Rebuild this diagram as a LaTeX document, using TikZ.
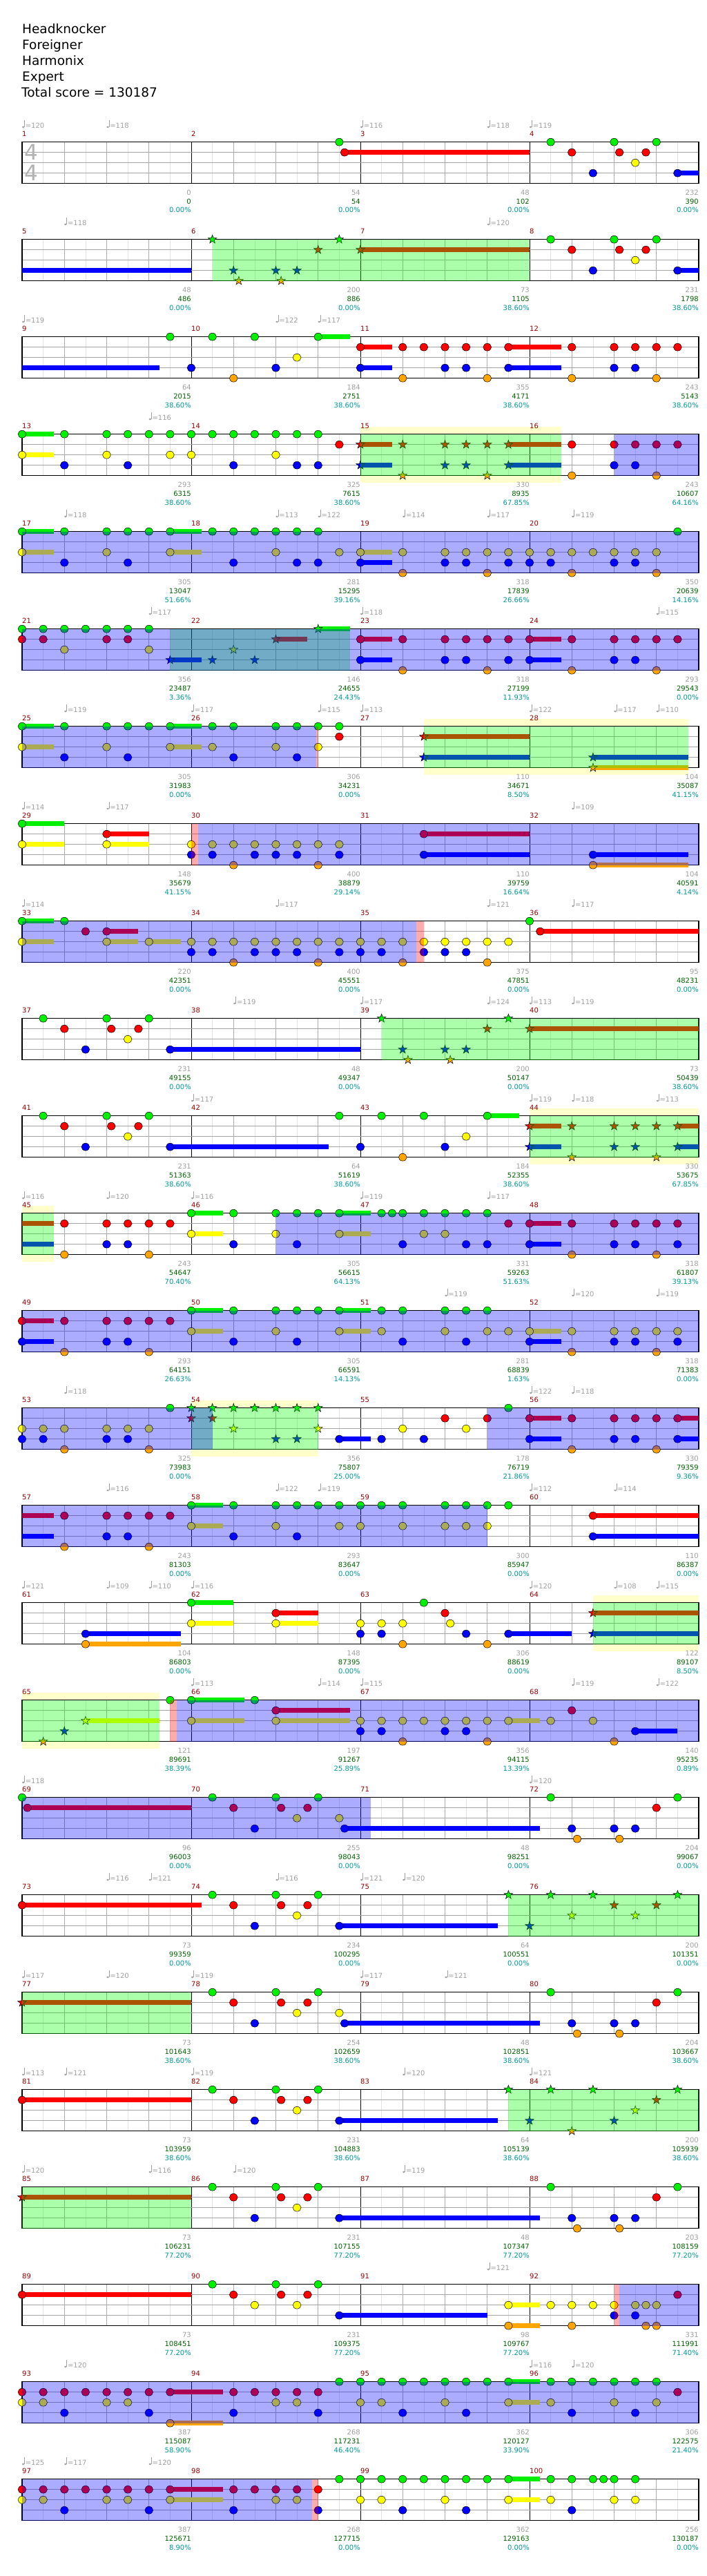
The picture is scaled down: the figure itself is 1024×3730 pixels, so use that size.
\documentclass[tikz,border=0pt]{standalone}
\usepackage{fontspec}
\setmainfont{DejaVu Sans}
\usepackage{xcolor}
\usepackage{tikz}
\definecolor{fretG}{RGB}{0,240,0}
\definecolor{fretR}{RGB}{255,0,0}
\definecolor{fretY}{RGB}{255,255,0}
\definecolor{fretB}{RGB}{0,0,255}
\definecolor{fretO}{RGB}{255,165,0}
\definecolor{spgreen}{RGB}{0,255,0}
\definecolor{activeblue}{RGB}{0,0,255}
\definecolor{sparkred}{RGB}{255,0,0}
\definecolor{solobg}{RGB}{255,255,204}
\definecolor{tempogray}{RGB}{160,160,160}
\definecolor{barred}{RGB}{150,0,0}
\definecolor{gaingray}{RGB}{160,160,160}
\definecolor{totalgreen}{RGB}{0,100,0}
\definecolor{pctteal}{RGB}{0,153,153}

\tikzset{
  chartrow/.style={shift={(32,{-205.7-141*#1})}, x=30.625pt, y=-15pt},
  eighthline/.style={gray!22, line width=0.6pt},
  beatline/.style={gray!65, line width=0.6pt},
  barline/.style={black, line width=0.8pt},
  laneline/.style={gray!70, line width=0.8pt},
  staffframe/.style={black, line width=1.3pt},
  gem/.style={draw=black, line width=0.5pt},
  tailbar/.style={line width=6.7pt},
  smalltext/.style={inner sep=0pt, font=\fontsize{10}{12}\selectfont},
  barnum/.style={smalltext, anchor=base west, text=barred},
  bpmlbl/.style={smalltext, anchor=base west, text=tempogray},
  gainlbl/.style={smalltext, anchor=base east, text=gaingray},
  totallbl/.style={smalltext, anchor=base east, text=totalgreen},
  pctlbl/.style={smalltext, anchor=base east, text=pctteal},
  titlelbl/.style={inner sep=0pt, anchor=base west, font=\fontsize{18.5}{22}\selectfont},
  timesig/.style={inner sep=0pt, text=gray!60, font=\fontsize{31}{36}\selectfont}
}

% one staff of four measures, positions in eighth notes, lanes 0..4
\newcommand{\staffbase}[1]{%
  \def\firstm{#1}
  \fill[white] (0,0) rectangle (32,4);
  \foreach \i in {1,...,31} \draw[eighthline] (\i,0) -- (\i,4);
  \foreach \i in {2,4,...,30} \draw[beatline] (\i,0) -- (\i,4);
  \foreach \i in {8,16,24} \draw[barline] (\i,0) -- (\i,4);
  \foreach \l in {1,2,3} \draw[laneline] (0,\l) -- (32,\l);
  \draw[staffframe] (0,0) rectangle (32,4);
  \foreach \k in {0,...,3} {
    \pgfmathtruncatemacro\mm{#1+\k}
    \node[barnum] (bar\mm) at (8*\k,-0.56) {\mm};
  }
}
\newcommand{\tempos}[1]{\foreach \p/\v in {#1} {
  \fill[tempogray] ([xshift=1.6pt]\p,-1.45) ellipse [x radius=1.9pt, y radius=1.4pt];
  \draw[tempogray, line width=0.6pt] ([xshift=3.3pt]\p,-1.45) -- ++(0pt,9.5pt);
  \node[bpmlbl] (bpm\firstm-\p) at ([xshift=4.6pt]\p,-1.36) {=\v};
}}
\newcommand{\scores}[1]{\foreach \gainv/\totv/\pctv [count=\k] in {#1} {
  \pgfmathtruncatemacro\mm{\firstm+\k-1}
  \node[gainlbl] (gain\mm) at (8*\k,5.09) {\gainv};
  \node[totallbl] (total\mm) at (8*\k,5.97) {\totv};
  \node[pctlbl] (pct\mm) at (8*\k,6.82) {\pctv\%};
}}
\newcommand{\gem}[3]{\foreach \p in {#3}
  \filldraw[gem, fill=#1] (\p,#2) ellipse [x radius=5.9pt, y radius=5.4pt];}
\newcommand{\stargem}[3]{\foreach \p in {#3}
  \filldraw[gem, fill=#1, shift={(\p,#2)}] (90:6.5pt)
    \foreach \a in {0,...,4} {-- (126+72*\a:2.6pt) -- (162+72*\a:6.5pt)} -- cycle;}
\newcommand{\gemtail}[4]{\draw[tailbar, #1] (#3,#2) -- (#4,#2);}
\newcommand{\solozone}[2]{\fill[solobg] (#1,-0.73) rectangle (#2,4.67);}
\newcommand{\spzone}[2]{\fill[spgreen, opacity=.33] (#1,0) rectangle (#2,4);}
\newcommand{\activezone}[2]{\fill[activeblue, opacity=.33] (#1,0) rectangle (#2,4);}
\newcommand{\sparkzone}[2]{\fill[sparkred, opacity=.33] (#1,0) rectangle (#2,4);}

\begin{document}
\begin{tikzpicture}[x=1pt, y=1pt]
\useasboundingbox (0,0) rectangle (1024,-3730);
\fill[white] (0,0) rectangle (1024,-3730);

\node[titlelbl] (song) at (32,-49) {Headknocker};
\node[titlelbl] (artist) at (32,-72) {Foreigner};
\node[titlelbl] (charter) at (32,-95) {Harmonix};
\node[titlelbl] (level) at (32,-118) {Expert};
\node[titlelbl] (total) at (31,-141) {Total score = 130187};

\begin{scope}[chartrow=0]
  \staffbase{1}
  \node[timesig] (sigtop) at (0.42,1) {4};
  \node[timesig] (sigbot) at (0.42,3) {4};
  \tempos{0/120,4/118,16/116,22/118,24/119}
  \gemtail{fretR}{1}{15.25}{24} \gemtail{fretB}{3}{31}{32}
  \gem{fretG}{0}{15,25,28,30}
  \gem{fretR}{1}{15.25,26,28.25,29.5}
  \gem{fretY}{2}{29}
  \gem{fretB}{3}{27,31}
  \scores{0/0/0.00, 54/54/0.00, 48/102/0.00, 232/390/0.00}
\end{scope}

\begin{scope}[chartrow=1]
  \staffbase{5}
  \tempos{2/118,22/120}
  \gemtail{fretB}{3}{0}{8} \gemtail{fretR}{1}{16}{24} \gemtail{fretB}{3}{31}{32}
  \gem{fretG}{0}{25,28,30}
  \gem{fretR}{1}{26,28.25,29.5}
  \gem{fretY}{2}{29}
  \gem{fretB}{3}{27,31}
  \stargem{fretG}{0}{9,15}
  \stargem{fretR}{1}{14,16}
  \stargem{fretB}{3}{10,12,13}
  \stargem{fretO}{4}{10.25,12.25}
  \spzone{9}{24}
  \scores{48/486/0.00, 200/886/0.00, 73/1105/38.60, 231/1798/38.60}
\end{scope}

\begin{scope}[chartrow=2]
  \staffbase{9}
  \tempos{0/119,12/122,14/117}
  \gemtail{fretB}{3}{0}{6.5} \gemtail{fretG}{0}{14}{15.5}
  \gemtail{fretR}{1}{16}{17.5} \gemtail{fretB}{3}{16}{17.5}
  \gemtail{fretR}{1}{23}{25.5} \gemtail{fretB}{3}{23}{25.5}
  \gem{fretG}{0}{7,9,11,14}
  \gem{fretR}{1}{16,18,19,20,21,22,23,26,28,29,30,31}
  \gem{fretY}{2}{13}
  \gem{fretB}{3}{8,12,16,20,21,23,28,29}
  \gem{fretO}{4}{10,18,22,26,30}
  \scores{64/2015/38.60, 184/2751/38.60, 355/4171/38.60, 243/5143/38.60}
\end{scope}

\begin{scope}[chartrow=3]
  \solozone{16}{25.5}
  \staffbase{13}
  \tempos{6/116}
  \gemtail{fretG}{0}{0}{1.5} \gemtail{fretY}{2}{0}{1.5}
  \gemtail{fretR}{1}{16}{17.5} \gemtail{fretR}{1}{23}{25.5}
  \gemtail{fretB}{3}{16}{17.5} \gemtail{fretB}{3}{23}{25.5}
  \gem{fretG}{0}{0,2,4,5,6,7,8,9,10,11,12,13,14}
  \gem{fretR}{1}{15,26,28,29,30,31}
  \gem{fretY}{2}{0,4,7,8,12}
  \gem{fretB}{3}{2,5,10,13,14,28,29}
  \gem{fretO}{4}{26,30}
  \stargem{fretR}{1}{16,18,20,21,22,23}
  \stargem{fretB}{3}{16,20,21,23}
  \stargem{fretO}{4}{18,22}
  \spzone{16}{25.5} \activezone{28}{32}
  \scores{293/6315/38.60, 325/7615/38.60, 330/8935/67.85, 243/10607/64.16}
\end{scope}

\begin{scope}[chartrow=4]
  \staffbase{17}
  \tempos{2/118,12/113,14/122,18/114,22/117,26/119}
  \gemtail{fretG}{0}{0}{1.5} \gemtail{fretG}{0}{7}{8.5}
  \gemtail{fretY}{2}{0}{1.5} \gemtail{fretY}{2}{7}{8.5}
  \gemtail{fretY}{2}{16}{17.5} \gemtail{fretB}{3}{16}{17.5}
  \gem{fretG}{0}{0,2,4,5,6,7,9,10,11,12,13,14,31}
  \gem{fretY}{2}{0,4,7,12,15,16,18,20,21,22,23,24,25,26,27,28,29,30}
  \gem{fretB}{3}{2,5,10,13,14,16,20,21,23,24,25,28,29}
  \gem{fretO}{4}{18,22,26,30}
  \activezone{0}{32}
  \scores{305/13047/51.66, 281/15295/39.16, 318/17839/26.66, 350/20639/14.16}
\end{scope}

\begin{scope}[chartrow=5]
  \staffbase{21}
  \tempos{6/117,16/118,30/115}
  \gemtail{fretB}{3}{7}{8.5} \gemtail{fretR}{1}{12}{13.5} \gemtail{fretG}{0}{14}{15.5}
  \gemtail{fretR}{1}{16}{17.5} \gemtail{fretB}{3}{16}{17.5}
  \gemtail{fretR}{1}{24}{25.5} \gemtail{fretB}{3}{24}{25.5}
  \gem{fretG}{0}{0,1,2,3,4,5,6}
  \gem{fretR}{1}{0,1,4,5,16,18,20,21,22,23,24,26,28,29,30,31}
  \gem{fretY}{2}{2,6}
  \gem{fretB}{3}{16,20,21,23,24,28,29}
  \gem{fretO}{4}{18,22,26,30}
  \stargem{fretB}{3}{7,9,11}
  \stargem{fretY}{2}{10}
  \stargem{fretR}{1}{12}
  \stargem{fretG}{0}{14}
  \spzone{7}{15.5} \activezone{0}{32}
  \scores{356/23487/3.36, 146/24655/24.43, 318/27199/11.93, 293/29543/0.00}
\end{scope}

\begin{scope}[chartrow=6]
  \solozone{19}{31.5}
  \staffbase{25}
  \tempos{2/119,8/117,14/115,16/113,24/122,28/117,30/110}
  \gemtail{fretG}{0}{0}{1.5} \gemtail{fretG}{0}{7}{8.5}
  \gemtail{fretY}{2}{0}{1.5} \gemtail{fretY}{2}{7}{8.5}
  \gemtail{fretR}{1}{19}{24} \gemtail{fretB}{3}{19}{24}
  \gemtail{fretB}{3}{27}{31.5} \gemtail{fretO}{4}{27}{31.5}
  \gem{fretG}{0}{0,2,4,5,6,7,9,10,12,13,14,15}
  \gem{fretR}{1}{15}
  \gem{fretY}{2}{0,4,7,9,12,14}
  \gem{fretB}{3}{2,5,10,13}
  \stargem{fretR}{1}{19}
  \stargem{fretB}{3}{19,27}
  \stargem{fretO}{4}{27}
  \spzone{19}{31.5} \activezone{0}{13.92} \sparkzone{13.92}{14}
  \scores{305/31983/0.00, 306/34231/0.00, 110/34671/8.50, 104/35087/41.15}
\end{scope}

\begin{scope}[chartrow=7]
  \staffbase{29}
  \tempos{0/114,4/117,26/109}
  \gemtail{fretG}{0}{0}{2} \gemtail{fretY}{2}{0}{2}
  \gemtail{fretR}{1}{4}{6} \gemtail{fretY}{2}{4}{6}
  \gemtail{fretR}{1}{19}{24} \gemtail{fretB}{3}{19}{24}
  \gemtail{fretB}{3}{27}{31.5} \gemtail{fretO}{4}{27}{31.5}
  \gem{fretG}{0}{0}
  \gem{fretR}{1}{4,19}
  \gem{fretY}{2}{0,4,8,9,10,11,12,13,14,15}
  \gem{fretB}{3}{8,9,11,12,13,15,19,27}
  \gem{fretO}{4}{10,14,27}
  \sparkzone{8}{8.33} \activezone{8.33}{32}
  \scores{148/35679/41.15, 400/38879/29.14, 110/39759/16.64, 104/40591/4.14}
\end{scope}

\begin{scope}[chartrow=8]
  \staffbase{33}
  \tempos{0/114,12/117,22/121,26/117}
  \gemtail{fretG}{0}{0}{1.5} \gemtail{fretR}{1}{4}{5.5}
  \gemtail{fretY}{2}{0}{1.5} \gemtail{fretY}{2}{4}{5.5} \gemtail{fretY}{2}{6}{7.5}
  \gemtail{fretR}{1}{24.5}{32}
  \gem{fretG}{0}{0,2,24}
  \gem{fretR}{1}{3,4,24.5}
  \gem{fretY}{2}{0,4,6,8,9,10,11,12,13,14,15,16,17,18,19,20,21,22,23}
  \gem{fretB}{3}{8,9,11,12,13,15,16,17,19,20,21}
  \gem{fretO}{4}{10,14,18,22}
  \activezone{0}{18.65} \sparkzone{18.65}{19}
  \scores{220/42351/0.00, 400/45551/0.00, 375/47851/0.00, 95/48231/0.00}
\end{scope}

\begin{scope}[chartrow=9]
  \staffbase{37}
  \tempos{10/119,16/117,22/124,24/113,26/119}
  \gemtail{fretB}{3}{7}{16} \gemtail{fretR}{1}{24}{32}
  \gem{fretG}{0}{1,4,6}
  \gem{fretR}{1}{2,4.22,5.5}
  \gem{fretY}{2}{5}
  \gem{fretB}{3}{3,7}
  \stargem{fretG}{0}{17,23}
  \stargem{fretR}{1}{22,24}
  \stargem{fretB}{3}{18,20,21}
  \stargem{fretO}{4}{18.25,20.25}
  \spzone{17}{32}
  \scores{231/49155/0.00, 48/49347/0.00, 200/50147/0.00, 73/50439/38.60}
\end{scope}

\begin{scope}[chartrow=10]
  \solozone{24}{32}
  \staffbase{41}
  \tempos{8/117,24/119,26/118,30/113}
  \gemtail{fretB}{3}{7}{14.5} \gemtail{fretG}{0}{22}{23.5}
  \gemtail{fretR}{1}{24}{25.5} \gemtail{fretR}{1}{31}{32}
  \gemtail{fretB}{3}{24}{25.5} \gemtail{fretB}{3}{31}{32}
  \gem{fretG}{0}{1,4,6,15,17,19,22}
  \gem{fretR}{1}{2,4.22,5.5}
  \gem{fretY}{2}{5,21}
  \gem{fretB}{3}{3,7,16,20}
  \gem{fretO}{4}{18}
  \stargem{fretR}{1}{24,26,28,29,30,31}
  \stargem{fretB}{3}{24,28,29,31}
  \stargem{fretO}{4}{26,30}
  \spzone{24}{32}
  \scores{231/51363/38.60, 64/51619/38.60, 184/52355/38.60, 330/53675/67.85}
\end{scope}

\begin{scope}[chartrow=11]
  \solozone{0}{1.5}
  \staffbase{45}
  \tempos{0/116,4/120,8/116,16/119,22/117}
  \gemtail{fretR}{1}{0}{1.5} \gemtail{fretB}{3}{0}{1.5}
  \gemtail{fretG}{0}{8}{9.5} \gemtail{fretY}{2}{8}{9.5}
  \gemtail{fretG}{0}{15}{16.5} \gemtail{fretY}{2}{15}{16.5}
  \gemtail{fretR}{1}{24}{25.5} \gemtail{fretB}{3}{24}{25.5}
  \gem{fretG}{0}{8,10,12,13,14,15,17,17.5,18,19,20,21,22}
  \gem{fretR}{1}{2,4,5,6,7,23,24,26,28,29,30,31}
  \gem{fretY}{2}{8,12,15,19,20}
  \gem{fretB}{3}{4,5,10,13,18,21,22,24,28,29,31}
  \gem{fretO}{4}{2,6,26,30}
  \spzone{0}{1.5} \activezone{12}{32}
  \scores{243/54647/70.40, 305/56615/64.13, 331/59263/51.63, 318/61807/39.13}
\end{scope}

\begin{scope}[chartrow=12]
  \staffbase{49}
  \tempos{20/119,26/120,30/119}
  \gemtail{fretR}{1}{0}{1.5} \gemtail{fretB}{3}{0}{1.5}
  \gemtail{fretG}{0}{8}{9.5} \gemtail{fretY}{2}{8}{9.5}
  \gemtail{fretG}{0}{15}{16.5} \gemtail{fretY}{2}{15}{16.5}
  \gemtail{fretY}{2}{24}{25.5} \gemtail{fretB}{3}{24}{25.5}
  \gem{fretG}{0}{8,10,12,13,14,15,17,18,20,21,22}
  \gem{fretR}{1}{0,2,4,5,6,7}
  \gem{fretY}{2}{8,12,15,17,20,22,23,24,26,28,29,30,31}
  \gem{fretB}{3}{0,4,5,10,13,18,21,24,28,29,31}
  \gem{fretO}{4}{2,6,26,30}
  \activezone{0}{32}
  \scores{293/64151/26.63, 305/66591/14.13, 281/68839/1.63, 318/71383/0.00}
\end{scope}

\begin{scope}[chartrow=13]
  \solozone{8}{14}
  \staffbase{53}
  \tempos{2/118,24/122,26/118}
  \gemtail{fretB}{3}{15}{16.5}
  \gemtail{fretR}{1}{24}{25.5} \gemtail{fretR}{1}{31}{32}
  \gemtail{fretB}{3}{24}{25.5} \gemtail{fretB}{3}{31}{32}
  \gem{fretG}{0}{7,23}
  \gem{fretR}{1}{20,22,24,26,28,29,30,31}
  \gem{fretY}{2}{0,1,2,4,5,6,18,21}
  \gem{fretB}{3}{0,1,4,5,15,17,19,24,28,29,31}
  \gem{fretO}{4}{2,6,26,30}
  \stargem{fretG}{0}{8,9,10,11,12,13,14}
  \stargem{fretR}{1}{8,9}
  \stargem{fretY}{2}{10,14}
  \stargem{fretB}{3}{12,13}
  \spzone{8}{14} \activezone{0}{9} \activezone{22}{32}
  \scores{325/73983/0.00, 356/75807/25.00, 178/76719/21.86, 330/79359/9.36}
\end{scope}

\begin{scope}[chartrow=14]
  \staffbase{57}
  \tempos{4/116,12/122,14/119,24/112,28/114}
  \gemtail{fretR}{1}{0}{1.5} \gemtail{fretB}{3}{0}{1.5}
  \gemtail{fretG}{0}{8}{9.5} \gemtail{fretY}{2}{8}{9.5}
  \gemtail{fretR}{1}{27}{32} \gemtail{fretB}{3}{27}{32}
  \gem{fretG}{0}{8,10,12,13,14,15,16,17,18,20,21,22,23}
  \gem{fretR}{1}{2,4,5,6,7,27}
  \gem{fretY}{2}{8,12,15,16,18,20,21,22}
  \gem{fretB}{3}{4,5,10,13,27}
  \gem{fretO}{4}{2,6}
  \activezone{0}{22}
  \scores{243/81303/0.00, 293/83647/0.00, 300/85947/0.00, 110/86387/0.00}
\end{scope}

\begin{scope}[chartrow=15]
  \solozone{27}{32}
  \staffbase{61}
  \tempos{0/121,4/109,6/110,8/116,24/120,28/108,30/115}
  \gemtail{fretB}{3}{3}{7.5} \gemtail{fretO}{4}{3}{7.5}
  \gemtail{fretG}{0}{8}{10} \gemtail{fretY}{2}{8}{10}
  \gemtail{fretR}{1}{12}{14} \gemtail{fretY}{2}{12}{14}
  \gemtail{fretB}{3}{23}{26}
  \gemtail{fretR}{1}{27}{32} \gemtail{fretB}{3}{27}{32}
  \gem{fretG}{0}{8,19}
  \gem{fretR}{1}{12,20}
  \gem{fretY}{2}{8,12,16,17,18,20.25}
  \gem{fretB}{3}{3,16,17,21,23}
  \gem{fretO}{4}{3,18,22}
  \stargem{fretR}{1}{27}
  \stargem{fretB}{3}{27}
  \spzone{27}{32}
  \scores{104/86803/0.00, 148/87395/0.00, 306/88619/0.00, 122/89107/8.50}
\end{scope}

\begin{scope}[chartrow=16]
  \solozone{0}{6.5}
  \staffbase{65}
  \tempos{8/113,14/114,16/115,26/119,30/122}
  \gemtail{fretY}{2}{3}{6.5}
  \gemtail{fretG}{0}{8}{10.5} \gemtail{fretY}{2}{8}{10.5}
  \gemtail{fretR}{1}{12}{15.5} \gemtail{fretY}{2}{12}{15.5}
  \gemtail{fretY}{2}{23}{24.5} \gemtail{fretB}{3}{29}{31}
  \gem{fretG}{0}{7,8,11}
  \gem{fretR}{1}{12,26}
  \gem{fretY}{2}{8,12,16,17,18,19,20,21,22,23,25,27}
  \gem{fretB}{3}{16,17,20,21,29}
  \gem{fretO}{4}{18,22,28}
  \stargem{fretO}{4}{1}
  \stargem{fretB}{3}{2}
  \stargem{fretY}{2}{3}
  \spzone{0}{6.5} \sparkzone{7}{7.3} \activezone{7.3}{32}
  \scores{121/89691/38.39, 197/91267/25.89, 356/94115/13.39, 140/95235/0.89}
\end{scope}

\begin{scope}[chartrow=17]
  \staffbase{69}
  \tempos{0/118,24/120}
  \gemtail{fretR}{1}{0.25}{8} \gemtail{fretB}{3}{15.25}{24.5}
  \gem{fretG}{0}{0,9,12,14,25,31}
  \gem{fretR}{1}{0.25,10,12.25,13.5,30}
  \gem{fretY}{2}{13,15}
  \gem{fretB}{3}{11,15.25,26,28,29}
  \gem{fretO}{4}{26.25,28.25}
  \activezone{0}{16.5}
  \scores{96/96003/0.00, 255/98043/0.00, 48/98251/0.00, 204/99067/0.00}
\end{scope}

\begin{scope}[chartrow=18]
  \staffbase{73}
  \tempos{4/116,6/121,12/116,16/121,18/120}
  \gemtail{fretR}{1}{0}{8.5} \gemtail{fretB}{3}{15}{22.5}
  \gem{fretG}{0}{9,12,14}
  \gem{fretR}{1}{0,10,12.25,13.5}
  \gem{fretY}{2}{13}
  \gem{fretB}{3}{11,15}
  \stargem{fretG}{0}{23,25,27,31}
  \stargem{fretR}{1}{28,30}
  \stargem{fretY}{2}{26,29}
  \stargem{fretB}{3}{24}
  \spzone{23}{32}
  \scores{73/99359/0.00, 234/100295/0.00, 64/100551/0.00, 200/101351/0.00}
\end{scope}

\begin{scope}[chartrow=19]
  \staffbase{77}
  \tempos{0/117,4/120,8/119,16/117,20/121}
  \gemtail{fretR}{1}{0}{8} \gemtail{fretB}{3}{15.25}{24.5}
  \gem{fretG}{0}{9,12,14,25,31}
  \gem{fretR}{1}{10,12.25,13.5,30}
  \gem{fretY}{2}{13,15}
  \gem{fretB}{3}{11,15.25,26,28,29}
  \gem{fretO}{4}{26.25,28.25}
  \stargem{fretR}{1}{0}
  \spzone{0}{8}
  \scores{73/101643/38.60, 254/102659/38.60, 48/102851/38.60, 204/103667/38.60}
\end{scope}

\begin{scope}[chartrow=20]
  \staffbase{81}
  \tempos{0/113,2/121,8/119,18/120,24/121}
  \gemtail{fretR}{1}{0}{8} \gemtail{fretB}{3}{15}{22.5}
  \gem{fretG}{0}{9,12,14}
  \gem{fretR}{1}{0,10,12.25,13.5}
  \gem{fretY}{2}{13}
  \gem{fretB}{3}{11,15}
  \stargem{fretG}{0}{23,25,27,31}
  \stargem{fretR}{1}{30}
  \stargem{fretY}{2}{29}
  \stargem{fretB}{3}{24,28}
  \stargem{fretO}{4}{26}
  \spzone{23}{32}
  \scores{73/103959/38.60, 231/104883/38.60, 64/105139/38.60, 200/105939/38.60}
\end{scope}

\begin{scope}[chartrow=21]
  \staffbase{85}
  \tempos{0/120,6/116,10/120,18/119}
  \gemtail{fretR}{1}{0}{8} \gemtail{fretB}{3}{15}{24.5}
  \gem{fretG}{0}{9,12,14,25,31}
  \gem{fretR}{1}{10,12.25,13.5,30}
  \gem{fretY}{2}{13}
  \gem{fretB}{3}{11,15,26,28,29}
  \gem{fretO}{4}{26.25,28.25}
  \stargem{fretR}{1}{0}
  \spzone{0}{8}
  \scores{73/106231/77.20, 231/107155/77.20, 48/107347/77.20, 203/108159/77.20}
\end{scope}

\begin{scope}[chartrow=22]
  \staffbase{89}
  \tempos{22/121}
  \gemtail{fretR}{1}{0}{8} \gemtail{fretB}{3}{15}{22}
  \gemtail{fretY}{2}{23}{24.5} \gemtail{fretO}{4}{23}{24.5}
  \gem{fretG}{0}{9,12,14}
  \gem{fretR}{1}{0,10,12.25,13.5,31}
  \gem{fretY}{2}{11,13,23,25,26,27,28,29,29.5,30}
  \gem{fretB}{3}{15,28,29}
  \gem{fretO}{4}{23,26,29.5,30}
  \sparkzone{28}{28.25} \activezone{28.25}{32}
  \scores{73/108451/77.20, 231/109375/77.20, 98/109767/77.20, 331/111991/71.40}
\end{scope}

\begin{scope}[chartrow=23]
  \staffbase{93}
  \tempos{2/120,24/116,26/120}
  \gemtail{fretR}{1}{7}{9.5} \gemtail{fretO}{4}{7}{9.5}
  \gemtail{fretG}{0}{23}{24.5} \gemtail{fretY}{2}{23}{24.5}
  \gem{fretG}{0}{15,16,17,18,19,20,21,22,23,25,26,27,28,29,30}
  \gem{fretR}{1}{0,1,2,3,4,5,6,7,10,11,12,13,14,31}
  \gem{fretY}{2}{0,1,4,5,12,13,16,17,20,23,25,28,30}
  \gem{fretB}{3}{2,6,10,14,18,21,26,29}
  \gem{fretO}{4}{7}
  \activezone{0}{32}
  \scores{387/115087/58.90, 268/117231/46.40, 362/120127/33.90, 306/122575/21.40}
\end{scope}

\begin{scope}[chartrow=24]
  \staffbase{97}
  \tempos{0/125,2/117,6/120}
  \gemtail{fretR}{1}{7}{9.5} \gemtail{fretY}{2}{7}{9.5}
  \gemtail{fretG}{0}{23}{24.5} \gemtail{fretY}{2}{23}{24.5}
  \gem{fretG}{0}{15,16,17,18,19,20,21,22,23,25,26,27,27.5,28,29}
  \gem{fretR}{1}{0,1,2,3,4,5,6,7,10,11,12,13,14}
  \gem{fretY}{2}{0,1,4,5,7,12,13,16,17,20,23,25,28,29}
  \gem{fretB}{3}{2,6,10,14,18,21,26}
  \activezone{0}{13.7} \sparkzone{13.7}{14}
  \scores{387/125671/8.90, 268/127715/0.00, 362/129163/0.00, 256/130187/0.00}
\end{scope}
\end{tikzpicture}
\end{document}
